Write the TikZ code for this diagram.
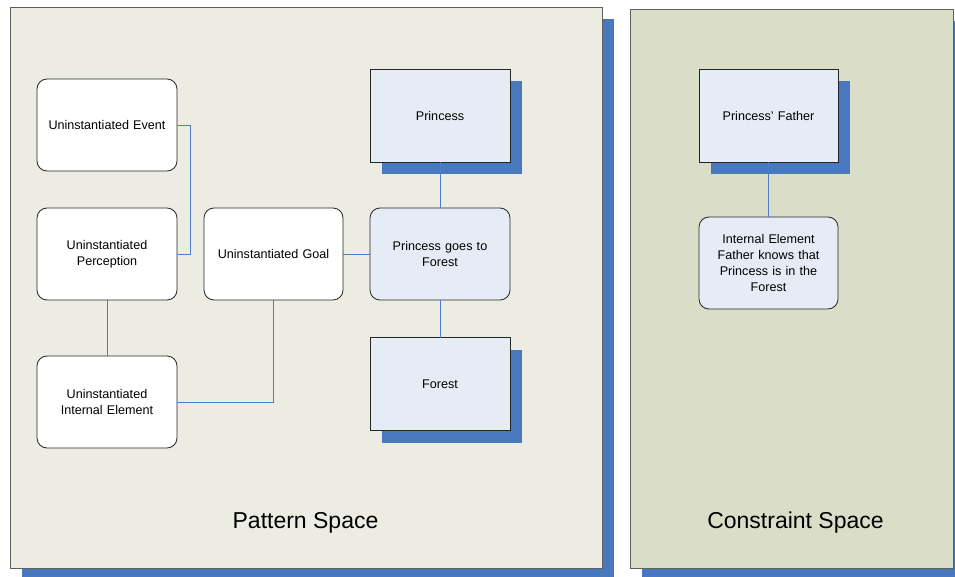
\documentclass[tikz,border=0pt]{standalone}
\usepackage{fontspec}
\setmainfont{Liberation Sans}
\usetikzlibrary{shadows}
\definecolor{shadowblue}{RGB}{72,120,190}
\definecolor{linkblue}{RGB}{74,126,200}
\definecolor{nodeblue}{RGB}{230,236,246}
\definecolor{patternbg}{RGB}{236,236,226}
\definecolor{constraintbg}{RGB}{218,221,199}
\definecolor{framegray}{RGB}{95,95,95}
\tikzset{
  blueshadow/.style={general shadow={fill=shadowblue, shadow xshift=12pt, shadow yshift=-12pt}},
  panel/.style={draw=framegray, line width=0.9pt, inner sep=0pt, outer sep=0pt, blueshadow},
  basebox/.style={draw=black!85, line width=0.8pt, inner sep=2pt, outer sep=0pt,
    minimum width=140pt, minimum height=92pt, align=center, text width=128pt,
    font=\fontsize{12.6}{16}\selectfont},
  roundbox/.style={basebox, rounded corners=10pt, fill=white},
  roundblue/.style={basebox, rounded corners=10pt, fill=nodeblue},
  entitybox/.style={basebox, fill=nodeblue, minimum height=93pt, blueshadow},
  link/.style={draw=linkblue, line width=0.8pt},
  spacelabel/.style={font=\fontsize{23}{27}\selectfont}
}
\begin{document}
\begin{tikzpicture}[x=1pt, y=-1pt]
\useasboundingbox (0,0) rectangle (955,577);

% the two spaces
\node[panel, fill=patternbg, minimum width=592pt, minimum height=561pt] (pattern) at (306,287.5) {};
\node[panel, fill=constraintbg, minimum width=323pt, minimum height=559pt] (constraint) at (791.5,288.5) {};
\node[spacelabel] (patternlabel) at (305.5,523) {Pattern Space};
\node[spacelabel] (constraintlabel) at (795.5,523) {Constraint Space};

% pattern space elements
\node[roundbox] (event) at (107,125) {Uninstantiated Event};
\node[roundbox] (perception) at (107,254) {Uninstantiated\\Perception};
\node[roundbox] (internal) at (107,402) {Uninstantiated\\Internal Element};
\node[roundbox, minimum width=139pt] (goal) at (273.5,254) {Uninstantiated Goal};
\node[entitybox] (princess) at (440,115.5) {Princess};
\node[roundblue] (goes) at (440,254) {Princess goes to\\Forest};
\node[entitybox] (forest) at (440,384) {Forest};

% constraint space elements
\node[entitybox, minimum width=139pt] (father) at (768.5,115.5) {Princess' Father};
\node[roundblue, minimum width=139pt] (knows) at (768.5,263) {Internal Element\\Father knows that\\Princess is in the\\Forest};

% connectors
\draw[link] (event.east) -- ++(13,0) |- (perception.east);
\draw[link] (perception.south) -- (internal.north);
\draw[link] (internal.east) -| (goal.south);
\draw[link] (goal.east) -- (goes.west);
\draw[link] (princess.south) -- (goes.north);
\draw[link] (goes.south) -- (forest.north);
\draw[link] (father.south) -- (knows.north);
\end{tikzpicture}
\end{document}
